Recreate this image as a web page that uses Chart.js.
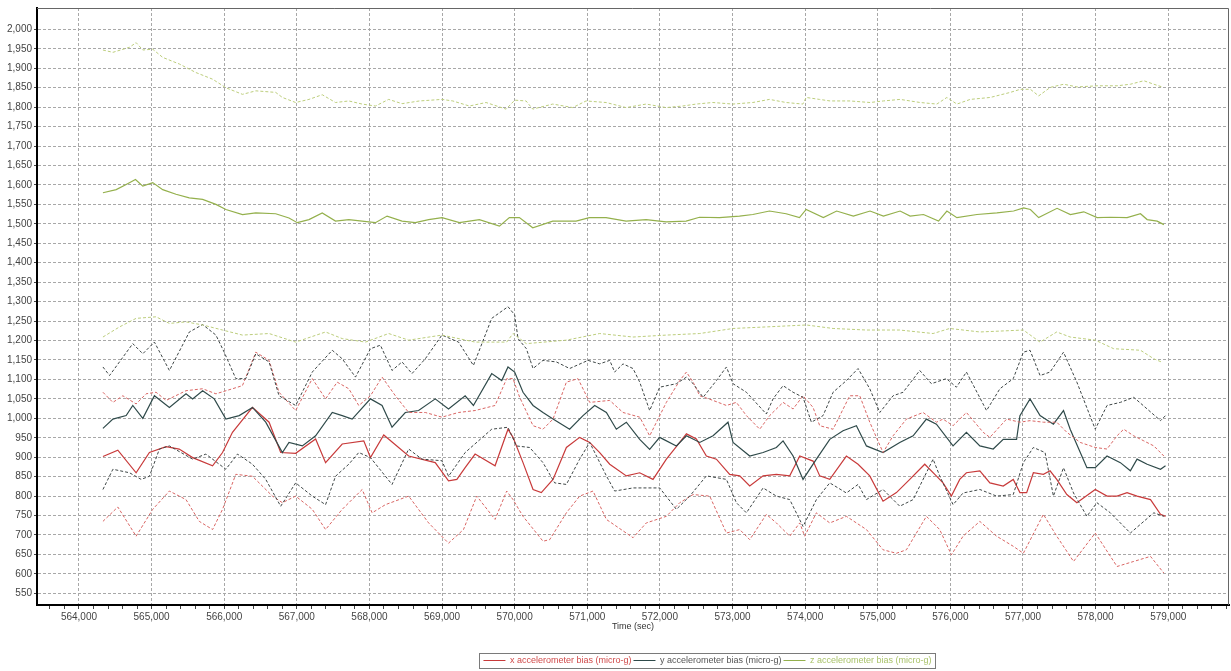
<!DOCTYPE html>
<html>
<head>
<meta charset="utf-8">
<script src="https://cdn.jsdelivr.net/npm/chart.js@4/dist/chart.umd.min.js"></script>
<style>
  html, body { margin: 0; padding: 0; background: #fff; }
  #wrap { width: 1231px; height: 671px; }
</style>
</head>
<body>
<div id="wrap"><canvas id="myChart" width="1231" height="671"></canvas></div>
<script>
// [time (sec), bias (micro-g)]
const xMean = [[564330,902],[564535,918],[564787,860],[564970,912],[565200,927],[565380,921],[565565,899],[565840,878],[565977,912],[566114,964],[566389,1028],[566618,990],[566778,912],[566984,910],[567259,947],[567396,886],[567625,934],[567922,942],[568014,899],[568197,957],[568540,903],[568906,886],[569089,839],[569204,843],[569318,873],[569455,908],[569730,878],[569908,972],[569977,951],[570115,886],[570253,817],[570367,809],[570528,843],[570712,925],[570895,951],[571033,938],[571171,912],[571309,882],[571538,852],[571722,860],[571905,843],[572089,895],[572273,938],[572365,960],[572502,947],[572640,903],[572778,895],[572961,856],[573099,852],[573237,826],[573421,852],[573604,856],[573788,852],[573926,903],[574109,890],[574201,852],[574339,843],[574568,903],[574729,882],[574890,852],[575073,787],[575257,809],[575441,843],[575647,882],[575806,852],[575899,834],[576014,800],[576129,843],[576221,860],[576406,865],[576544,834],[576728,826],[576866,843],[576958,809],[577051,809],[577143,860],[577281,856],[577373,865],[577465,843],[577604,804],[577742,783],[577995,817],[578157,800],[578295,800],[578433,809],[578571,800],[578756,791],[578894,753],[578963,748]];
const xLower = [[564330,735],[564535,772],[564787,697],[565016,766],[565245,813],[565474,791],[565657,735],[565840,714],[565977,766],[566160,856],[566389,851],[566664,800],[566801,783],[566984,800],[567213,766],[567396,714],[567625,766],[567900,817],[568037,757],[568220,778],[568540,800],[568815,731],[569089,679],[569295,714],[569478,800],[569730,740],[569890,813],[569977,791],[570115,748],[570390,684],[570482,688],[570712,757],[570895,800],[571079,813],[571263,740],[571630,693],[571813,731],[572089,748],[572273,783],[572457,804],[572686,800],[572916,705],[573099,714],[573237,688],[573466,753],[573604,731],[573788,697],[573926,731],[573994,697],[574155,757],[574339,731],[574568,748],[574844,714],[575073,662],[575257,653],[575395,662],[575670,748],[575853,714],[576014,649],[576175,697],[576406,735],[576636,697],[576866,671],[577005,653],[577281,753],[577465,697],[577696,632],[577995,705],[578295,619],[578525,632],[578756,645],[578940,602]];
const xUpper = [[564330,1067],[564467,1041],[564604,1058],[564787,1037],[564924,1063],[565062,1067],[565200,1046],[565474,1071],[565703,1076],[565886,1063],[566114,1076],[566251,1084],[566435,1170],[566618,1149],[566755,1067],[566984,1020],[567213,1102],[567396,1050],[567556,1093],[567716,1076],[567853,1033],[568014,1058],[568174,1106],[568357,1058],[568540,1015],[568769,1015],[568998,1003],[569227,1015],[569455,1020],[569730,1033],[569890,1102],[569977,1102],[570069,1054],[570253,981],[570390,972],[570528,998],[570712,1093],[570872,1102],[571033,1041],[571309,1046],[571492,1015],[571722,1003],[571859,955],[572089,1041],[572273,1097],[572365,1119],[572457,1093],[572549,1058],[572732,1046],[572916,1033],[573053,1041],[573191,1007],[573375,972],[573512,1007],[573696,1041],[573834,1024],[573971,1058],[574109,1028],[574201,981],[574385,972],[574614,1058],[574752,1058],[574890,990],[575073,912],[575211,955],[575395,998],[575624,1015],[575808,990],[575899,998],[576037,981],[576221,1015],[576452,964],[576544,951],[576774,998],[576958,990],[577097,994],[577281,990],[577465,990],[577604,964],[577788,938],[577995,925],[578157,921],[578295,955],[578387,972],[578525,955],[578664,942],[578802,929],[578940,903]];

const yMean = [[564330,974],[564467,998],[564650,1007],[564741,1033],[564879,1000],[565039,1058],[565245,1028],[565474,1063],[565565,1050],[565703,1071],[565863,1050],[566023,998],[566206,1007],[566389,1028],[566572,990],[566801,912],[566892,938],[567076,929],[567259,955],[567488,1015],[567625,1007],[567762,998],[568014,1050],[568174,1033],[568311,977],[568494,1015],[568677,1020],[568906,1050],[569089,1024],[569318,1058],[569432,1033],[569684,1115],[569822,1097],[569908,1132],[570000,1119],[570115,1067],[570253,1033],[570390,1015],[570528,998],[570757,972],[570941,1007],[571102,1033],[571263,1015],[571400,972],[571538,990],[571722,946],[571859,920],[571997,951],[572227,929],[572365,955],[572549,938],[572732,955],[572938,990],[573007,938],[573237,903],[573421,912],[573604,925],[573696,942],[573834,903],[573971,843],[574155,895],[574339,946],[574522,968],[574706,981],[574844,929],[575073,912],[575303,938],[575487,955],[575670,998],[575808,985],[576037,929],[576221,964],[576406,929],[576590,921],[576728,946],[576912,946],[576958,1007],[577097,1050],[577235,1007],[577419,985],[577558,1020],[577650,972],[577880,873],[577995,873],[578157,903],[578341,886],[578479,865],[578571,895],[578710,882],[578894,869],[578963,878]];
const yUpper = [[564330,1132],[564421,1110],[564741,1192],[564879,1166],[565039,1196],[565245,1123],[565520,1222],[565703,1241],[565886,1214],[566000,1170],[566160,1102],[566297,1102],[566435,1166],[566618,1145],[566755,1058],[566984,1033],[567213,1119],[567488,1175],[567625,1153],[567808,1106],[568014,1179],[568151,1188],[568311,1123],[568449,1145],[568586,1115],[568769,1153],[568998,1214],[569227,1196],[569432,1136],[569684,1257],[569908,1287],[570000,1266],[570046,1205],[570161,1179],[570253,1128],[570390,1149],[570574,1145],[570757,1128],[571010,1149],[571171,1140],[571309,1149],[571377,1119],[571492,1140],[571630,1128],[571722,1093],[571859,1020],[571997,1080],[572227,1089],[572365,1106],[572457,1089],[572595,1054],[572778,1097],[572916,1132],[573007,1089],[573191,1067],[573466,1011],[573558,1050],[573696,1084],[573834,1067],[573971,1054],[574086,990],[574247,1007],[574385,1067],[574568,1097],[574729,1128],[574890,1076],[575028,1015],[575211,1058],[575349,1067],[575578,1123],[575739,1089],[575945,1102],[576083,1080],[576221,1119],[576498,1020],[576682,1076],[576866,1102],[577005,1170],[577097,1175],[577235,1110],[577373,1119],[577558,1170],[577742,1093],[577995,972],[578157,1033],[578341,1041],[578525,1054],[578710,1024],[578894,994],[578963,1007]];
const yLower = [[564330,817],[564467,869],[564696,860],[564856,843],[564970,851],[565108,921],[565245,929],[565565,895],[565748,908],[566023,869],[566183,908],[566389,882],[566572,843],[566778,774],[566984,834],[567213,800],[567396,778],[567533,851],[567716,882],[567853,912],[568014,899],[568311,830],[568540,921],[568723,895],[568998,891],[569089,851],[569318,912],[569684,972],[569908,977],[570023,929],[570207,925],[570390,886],[570551,834],[570712,830],[570895,895],[571033,938],[571263,852],[571377,813],[571630,821],[571997,821],[572227,766],[572411,800],[572640,852],[572916,843],[573053,783],[573191,757],[573421,821],[573604,800],[573788,791],[573971,722],[574155,791],[574339,834],[574568,808],[574729,830],[574844,791],[575073,817],[575303,774],[575487,791],[575762,895],[575853,852],[576037,778],[576175,808],[576406,817],[576636,800],[576866,804],[577005,886],[577143,925],[577304,912],[577419,800],[577558,873],[577696,808],[577880,748],[578018,783],[578203,757],[578479,705],[578664,735],[578802,757],[578940,748]];

const zMean = [[564330,1580],[564513,1588],[564650,1601],[564778,1614],[564879,1597],[565016,1606],[565153,1588],[565336,1576],[565519,1567],[565703,1563],[565886,1550],[566023,1537],[566252,1524],[566435,1528],[566709,1526],[566892,1515],[567007,1503],[567167,1511],[567350,1528],[567533,1507],[567716,1511],[567899,1507],[568082,1503],[568243,1520],[568449,1507],[568632,1503],[568815,1511],[569000,1516],[569239,1503],[569514,1511],[569790,1494],[569927,1516],[570065,1516],[570249,1490],[570524,1507],[570846,1507],[571029,1516],[571259,1516],[571534,1507],[571810,1511],[572085,1505],[572361,1507],[572545,1517],[572820,1516],[573096,1520],[573279,1524],[573509,1533],[573738,1526],[573922,1516],[574014,1537],[574251,1516],[574434,1533],[574664,1520],[574894,1533],[575078,1520],[575308,1533],[575446,1520],[575630,1524],[575837,1507],[575952,1533],[576090,1516],[576366,1524],[576641,1528],[576871,1533],[577009,1541],[577102,1537],[577216,1516],[577469,1540],[577653,1524],[577837,1531],[578021,1516],[578205,1517],[578434,1516],[578618,1526],[578710,1511],[578848,1507],[578940,1498]];
const zUpper = [[564330,1947],[564467,1941],[564696,1954],[564787,1966],[564879,1947],[565016,1949],[565153,1928],[565382,1911],[565611,1889],[565840,1872],[566023,1850],[566252,1833],[566435,1842],[566709,1838],[566801,1825],[566984,1812],[567167,1820],[567350,1832],[567533,1812],[567716,1816],[567899,1808],[568082,1803],[568265,1820],[568449,1809],[568688,1816],[569000,1820],[569147,1816],[569376,1803],[569606,1812],[569882,1795],[570000,1818],[570157,1816],[570249,1795],[570524,1808],[570800,1799],[570983,1816],[571259,1812],[571534,1799],[571810,1808],[572085,1799],[572315,1803],[572499,1808],[572728,1812],[573004,1808],[573279,1812],[573509,1820],[573738,1812],[573968,1808],[574014,1825],[574197,1820],[574343,1816],[574618,1816],[574894,1812],[575078,1816],[575308,1820],[575584,1812],[575814,1808],[575952,1825],[576090,1808],[576274,1820],[576549,1825],[576825,1838],[576963,1846],[577102,1846],[577216,1829],[577377,1851],[577561,1859],[577745,1852],[578021,1855],[578297,1855],[578480,1859],[578664,1868],[578802,1859],[578917,1852]];
const zLower = [[564330,1209],[564558,1235],[564787,1257],[565062,1261],[565245,1244],[565474,1248],[565703,1240],[565977,1227],[566251,1214],[566618,1218],[566984,1196],[567396,1222],[567625,1205],[567945,1196],[568265,1218],[568540,1201],[568998,1214],[569455,1196],[569890,1196],[569977,1218],[570161,1192],[570712,1201],[571171,1218],[571630,1209],[572089,1214],[572549,1218],[573007,1231],[573466,1235],[574017,1240],[574385,1231],[574844,1227],[575303,1227],[575762,1218],[575991,1231],[576406,1222],[577005,1227],[577235,1196],[577465,1222],[577650,1209],[577995,1201],[578249,1179],[578618,1175],[578802,1153],[578917,1144]];

const labels = ['x accelerometer bias (micro-g)', 'y accelerometer bias (micro-g)', 'z accelerometer bias (micro-g)'];

// labelled ticks; minor x ticks every 200 s
const timeTicks = [564000, 565000, 566000, 567000, 568000, 569000, 570000, 571000, 572000, 573000, 574000, 575000, 576000, 577000, 578000, 579000];
const biasTicks = [550, 600, 650, 700, 750, 800, 850, 900, 950, 1000, 1050, 1100, 1150, 1200, 1250, 1300, 1350, 1400, 1450, 1500, 1550, 1600, 1650, 1700, 1750, 1800, 1850, 1900, 1950, 2000];

const red = '#c83a3a', redDash = '#d96563';
const slate = '#2f4a4a', slateDash = '#3e4646';
const green = '#94b04c', greenDash = '#bccd7c';
const textColors = ['#d04a4a', '#555555', '#a9c26a'];
const tickFont = { family: 'Liberation Sans, Arial, sans-serif', size: 10 };

const pts = a => a.map(([x, y]) => ({ x, y }));

function bound(data, color) {
    return { label: '', bound: true, data: pts(data), borderColor: color, borderWidth: 1, borderDash: [3, 2] };
}
function mean(label, data, color) {
    return { label: label, data: pts(data), borderColor: color, backgroundColor: color, borderWidth: 1.2 };
}

const framePlugin = {
    id: 'frame',
    afterLayout(chart) {
        // legend sits right of centre in the original
        chart.legend.left += 186;
    },
    afterDraw(chart) {
        const { ctx, chartArea: a } = chart;
        ctx.save();
        ctx.strokeStyle = '#666';
        ctx.lineWidth = 1;
        ctx.beginPath();
        ctx.moveTo(a.left, a.top + 0.5);
        ctx.lineTo(a.right - 0.5, a.top + 0.5);
        ctx.lineTo(a.right - 0.5, a.bottom);
        ctx.stroke();
        const boxes = chart.legend.legendHitBoxes;
        if (boxes && boxes.length) {
            const l = Math.min(...boxes.map(b => b.left)) - 4;
            const r = Math.max(...boxes.map(b => b.left + b.width)) + 4;
            const t = boxes[0].top - 3;
            const b = boxes[0].top + boxes[0].height + 3;
            ctx.strokeStyle = '#7a7a7a';
            ctx.strokeRect(Math.round(l) + 0.5, Math.round(t) + 0.5, Math.round(r - l), Math.round(b - t));
        }
        ctx.restore();
    }
};

const ctx = document.getElementById('myChart').getContext('2d');

const myChart = new Chart(ctx, {
    type: 'line',
    data: {
        datasets: [
            bound(zUpper, greenDash), bound(zLower, greenDash),
            bound(yUpper, slateDash), bound(yLower, slateDash),
            bound(xUpper, redDash), bound(xLower, redDash),
            mean(labels[2], zMean, green),
            mean(labels[1], yMean, slate),
            mean(labels[0], xMean, red)
        ]
    },
    options: {
        responsive: false,
        animation: false,
        layout: { padding: { top: 7, right: 2, left: 0, bottom: -4 } },
        elements: { point: { radius: 0 }, line: { tension: 0 } },
        plugins: {
            tooltip: { enabled: false },
            legend: {
                position: 'bottom',
                labels: {
                    usePointStyle: true,
                    pointStyle: 'line',
                    pointStyleWidth: 22,
                    padding: 2,
                    font: { family: 'Liberation Sans, Arial, sans-serif', size: 9 },
                    filter: (item, data) => !data.datasets[item.datasetIndex].bound,
                    generateLabels(chart) {
                        const items = Chart.defaults.plugins.legend.labels.generateLabels(chart);
                        items.forEach(it => {
                            const i = labels.indexOf(it.text);
                            if (i >= 0) it.fontColor = textColors[i];
                            it.lineWidth = 1;
                        });
                        return items.sort((a, b) => labels.indexOf(a.text) - labels.indexOf(b.text));
                    }
                }
            }
        },
        scales: {
            x: {
                type: 'linear',
                min: 563422,
                max: 579837,
                afterFit(s) { s.height = 49; },
                afterBuildTicks(s) {
                    const t = [];
                    for (let v = timeTicks[0] - 400; v <= s.max; v += 200) t.push({ value: v });
                    s.ticks = t;
                },
                title: {
                    display: true,
                    text: 'Time (sec)',
                    color: '#333',
                    font: { family: 'Liberation Sans, Arial, sans-serif', size: 9 },
                    padding: { top: 0, bottom: 22 }
                },
                ticks: {
                    autoSkip: false,
                    maxRotation: 0,
                    padding: 2,
                    color: '#444',
                    font: tickFont,
                    callback: v => (timeTicks.includes(Math.round(v)) ? Math.round(v).toLocaleString('en-US') : '')
                },
                grid: {
                    color: c => (c.tick && timeTicks.includes(Math.round(c.tick.value)) ? '#a8a8a8' : 'rgba(0,0,0,0)'),
                    tickColor: '#444',
                    tickLength: 4,
                    lineWidth: 1
                },
                border: { display: true, color: '#000', width: 2, dash: [3, 2] }
            },
            y: {
                min: 520,
                max: 2055,
                afterFit(s) { s.width = 37; },
                afterBuildTicks(s) { s.ticks = biasTicks.map(v => ({ value: v })); },
                ticks: {
                    padding: 2,
                    color: '#444',
                    font: tickFont,
                    callback: v => v.toLocaleString('en-US')
                },
                grid: { color: '#a8a8a8', tickColor: '#444', tickLength: 3, lineWidth: 1 },
                border: { display: true, color: '#000', width: 2, dash: [3, 2] }
            }
        }
    },
    plugins: [framePlugin]
});
</script>
</body>
</html>
